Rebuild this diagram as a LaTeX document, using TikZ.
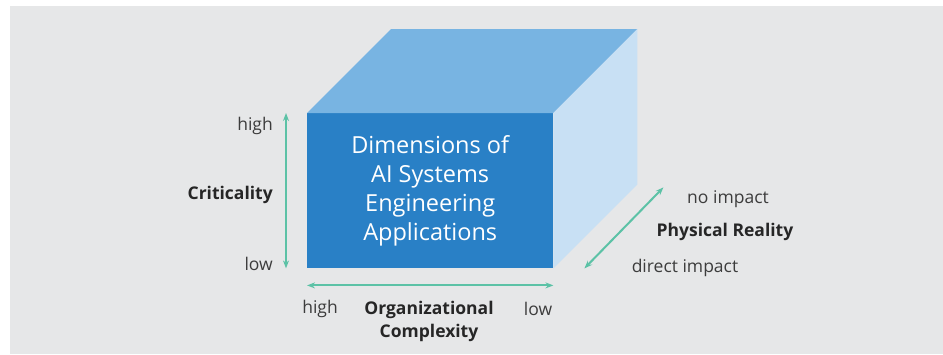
\documentclass[tikz,border=0pt]{standalone}
\usepackage{fontspec}
\setmainfont{Open Sans}
\usepackage{xcolor}
\usepackage{tikz}
\definecolor{FrontBlue}{RGB}{41,128,198}
\definecolor{TopBlue}{RGB}{120,180,226}
\definecolor{SideBlue}{RGB}{200,224,244}
\definecolor{PanelGray}{RGB}{230,231,232}
\definecolor{AxisGreen}{RGB}{92,194,166}
\definecolor{LabelGray}{RGB}{60,60,60}
\usetikzlibrary{arrows.meta,positioning,calc}
\newcommand{\lbl}[0]{\fontsize{17.5}{23}\selectfont}

\begin{document}
\begin{tikzpicture}[x=1pt, y=-1pt, >={Stealth[length=8pt,width=6pt]},
    axis/.style={<->, draw=AxisGreen, line width=2pt},
    endlabel/.style={text=LabelGray, font=\lbl, inner sep=0pt, yshift=-2pt},
    axislabel/.style={text=black!85, font=\lbl\bfseries, inner sep=0pt, align=center, yshift=-2pt}]
            % Panel behind everything
            \useasboundingbox (0,0) rectangle (943,354);
            \fill[PanelGray] (10,6) rectangle (943,354);

            % Draw the front face of the box
            \node[fill=FrontBlue, minimum width=246, minimum height=155, anchor=north west,
                  text=white, align=center, inner sep=0pt,
                  font=\fontsize{23.5}{29}\selectfont] (front) at (307,113)
                  {Dimensions of\\AI Systems\\Engineering\\Applications};

            % Back corners of the box
            \coordinate (bnw) at ($(front.north west)+(84,-84)$);
            \coordinate (bne) at ($(front.north east)+(84,-84)$);
            \coordinate (bse) at ($(front.south east)+(84,-84)$);

            % Draw the top and side faces
            \fill[TopBlue] (front.north west) -- (bnw) -- (bne) -- (front.north east) -- cycle;
            \fill[SideBlue] (front.north east) -- (bne) -- (bse) -- (front.south east) -- cycle;

            % Criticality axis
            \coordinate (ctop) at ([xshift=-21pt]front.north west);
            \coordinate (cbot) at ([xshift=-21pt]front.south west);
            \draw[axis] (ctop) -- (cbot);
            \node[endlabel, anchor=east] (chigh) at (273,124) {high};
            \node[endlabel, anchor=east] (clow) at (273,262) {low};
            \node[axislabel, anchor=east] (crit) at (273,193) {Criticality};

            % Organizational complexity axis
            \coordinate (oleft) at ([yshift=-17pt]front.south west);
            \coordinate (oright) at ([yshift=-17pt]front.south east);
            \draw[axis] (oleft) -- (oright);
            \node[endlabel] (ohigh) at (320,307) {high};
            \node[endlabel] (olow) at (538,307) {low};
            \node[axislabel] (org) at (429,319) {Organizational\\Complexity};

            % Physical reality axis
            \coordinate (pbot) at ($(front.south east)+(31,0)$);
            \coordinate (ptop) at ($(front.south east)+(110,-81)$);
            \draw[axis] (pbot) -- (ptop);
            \node[endlabel] (pno) at (728,197) {no impact};
            \node[axislabel] (phys) at (725,230) {Physical Reality};
            \node[endlabel] (pdirect) at (685,266) {direct impact};
        \end{tikzpicture}
\end{document}
